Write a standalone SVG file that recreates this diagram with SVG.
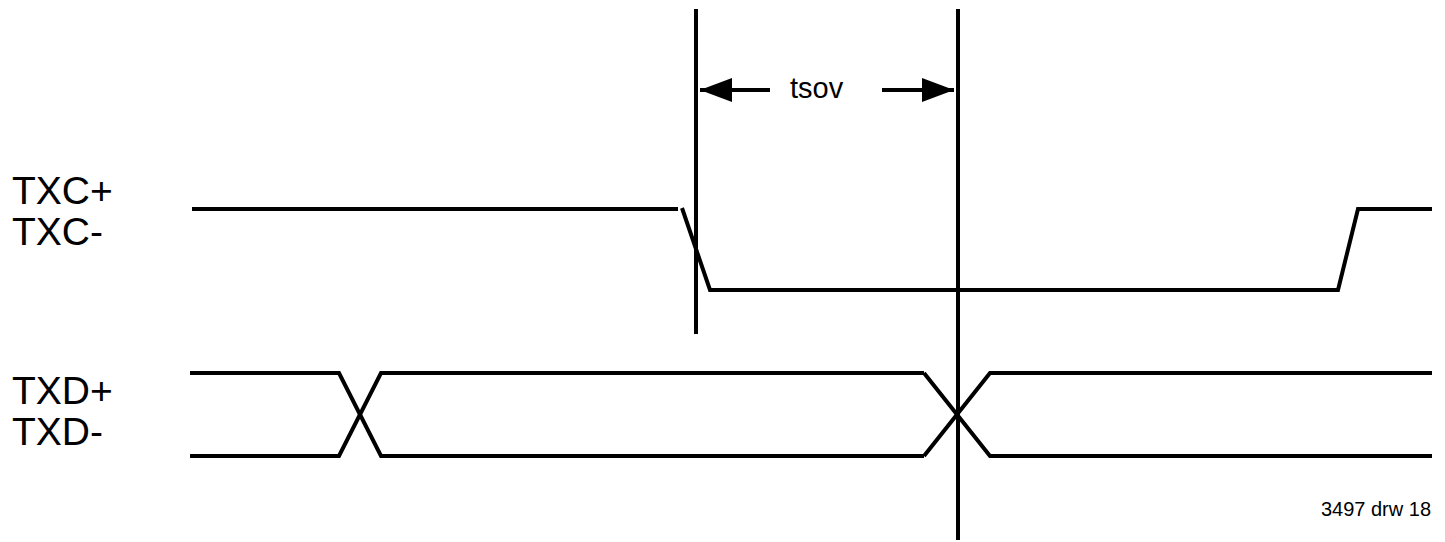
<svg xmlns="http://www.w3.org/2000/svg" width="1445" height="542" viewBox="0 0 1445 542">
<style>
.w{fill:none;stroke:#000;stroke-width:4;stroke-linejoin:miter}
.t{font-family:"Liberation Sans",Arial,sans-serif;fill:#000}
</style>
<defs>
<marker id="ah" markerWidth="8" markerHeight="6" refX="8" refY="3" orient="auto" markerUnits="strokeWidth">
<path d="M0,0 L8,3 L0,6 Z" fill="#000"/>
</marker>
</defs>
<rect width="1445" height="542" fill="#fff"/>
<g id="labels">
<text class="t" x="12" y="204" font-size="39">TXC+</text>
<text class="t" x="12" y="245" font-size="39">TXC-</text>
<text class="t" x="12" y="404" font-size="39">TXD+</text>
<text class="t" x="12" y="445" font-size="39">TXD-</text>
<text class="t" x="790" y="98" font-size="29">tsov</text>
<text class="t" x="1431" y="516" font-size="20" text-anchor="end">3497 drw 18</text>
</g>
<g id="txc">
<polyline class="w" points="192,209 678,209"/>
<polyline class="w" points="682,208 710,290 1338,290 1358,209 1432,209"/>
</g>
<g id="txd">
<polyline class="w" points="190,373 339,373 381,456 656,456 924,456"/>
<polyline class="w" points="190,456 339,456 381,373 924,373"/>
<polyline class="w" points="924,373 990,456 1432,456"/>
<polyline class="w" points="924,456 990,373 1432,373"/>
</g>
<g id="connectors">
<line class="w" x1="696" y1="9" x2="696" y2="334"/>
<line class="w" x1="958" y1="9" x2="958" y2="540"/>
<line class="w" x1="770" y1="90" x2="700" y2="90" marker-end="url(#ah)"/>
<line class="w" x1="882" y1="90" x2="954" y2="90" marker-end="url(#ah)"/>
</g>
</svg>
